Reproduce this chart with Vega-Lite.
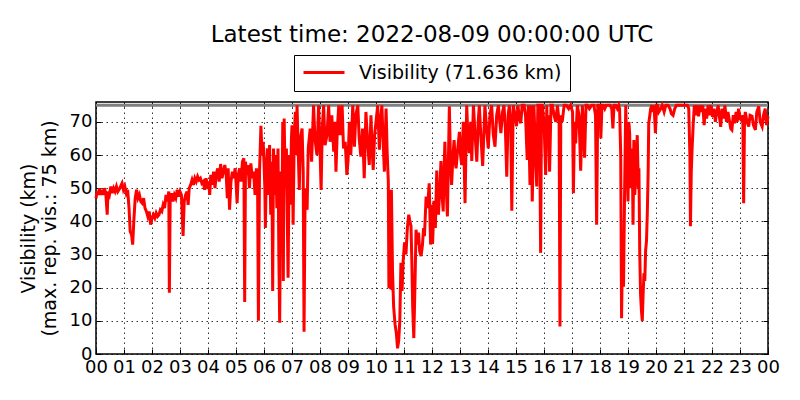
{
  "$schema": "https://vega.github.io/schema/vega-lite/v6.json",
  "width": 672,
  "height": 252,
  "autosize": {"type": "none"},
  "padding": {"left": 96, "top": 102, "right": 32, "bottom": 46},
  "background": "white",
  "title": {
    "text": "Latest time: 2022-08-09 00:00:00 UTC",
    "font": "DejaVu Sans",
    "fontSize": 23,
    "fontWeight": "normal",
    "color": "black",
    "anchor": "middle",
    "offset": 8
  },
  "datasets": {
    "vis": [
      {"t": 0.00, "v": 47}, {"t": 0.04, "v": 49}, {"t": 0.08, "v": 48}, {"t": 0.12, "v": 50}, {"t": 0.16, "v": 48},
      {"t": 0.20, "v": 49.5}, {"t": 0.25, "v": 48}, {"t": 0.30, "v": 50}, {"t": 0.35, "v": 48.5}, {"t": 0.40, "v": 42},
      {"t": 0.43, "v": 49}, {"t": 0.48, "v": 48}, {"t": 0.53, "v": 50.5}, {"t": 0.58, "v": 48.5}, {"t": 0.63, "v": 50},
      {"t": 0.68, "v": 49}, {"t": 0.73, "v": 50.5}, {"t": 0.78, "v": 49}, {"t": 0.85, "v": 50}, {"t": 0.93, "v": 51.5},
      {"t": 0.98, "v": 49.5}, {"t": 1.03, "v": 50.5}, {"t": 1.08, "v": 48.5}, {"t": 1.13, "v": 49.5}, {"t": 1.18, "v": 44},
      {"t": 1.22, "v": 37}, {"t": 1.27, "v": 36}, {"t": 1.31, "v": 33}, {"t": 1.35, "v": 40}, {"t": 1.40, "v": 47},
      {"t": 1.45, "v": 49.5}, {"t": 1.50, "v": 47}, {"t": 1.55, "v": 48}, {"t": 1.60, "v": 46}, {"t": 1.65, "v": 45.5},
      {"t": 1.70, "v": 47}, {"t": 1.75, "v": 44}, {"t": 1.80, "v": 43}, {"t": 1.85, "v": 41.5}, {"t": 1.90, "v": 43},
      {"t": 1.95, "v": 39}, {"t": 2.00, "v": 41}, {"t": 2.05, "v": 42}, {"t": 2.10, "v": 41}, {"t": 2.15, "v": 42.5},
      {"t": 2.20, "v": 41.5}, {"t": 2.25, "v": 42}, {"t": 2.30, "v": 43.5}, {"t": 2.35, "v": 43}, {"t": 2.40, "v": 45},
      {"t": 2.45, "v": 44}, {"t": 2.50, "v": 48}, {"t": 2.55, "v": 46}, {"t": 2.60, "v": 49}, {"t": 2.62, "v": 18.5},
      {"t": 2.65, "v": 47}, {"t": 2.70, "v": 48.5}, {"t": 2.75, "v": 46}, {"t": 2.80, "v": 48}, {"t": 2.85, "v": 47},
      {"t": 2.90, "v": 49.5}, {"t": 2.95, "v": 47.5}, {"t": 3.00, "v": 49}, {"t": 3.05, "v": 48}, {"t": 3.11, "v": 35.6},
      {"t": 3.15, "v": 46}, {"t": 3.20, "v": 48}, {"t": 3.25, "v": 49}, {"t": 3.29, "v": 45}, {"t": 3.33, "v": 50},
      {"t": 3.38, "v": 51}, {"t": 3.43, "v": 52.5}, {"t": 3.48, "v": 51}, {"t": 3.53, "v": 53}, {"t": 3.58, "v": 52},
      {"t": 3.63, "v": 53.5}, {"t": 3.68, "v": 52.5}, {"t": 3.73, "v": 53}, {"t": 3.78, "v": 51.5}, {"t": 3.83, "v": 52},
      {"t": 3.88, "v": 49.5}, {"t": 3.93, "v": 53}, {"t": 3.98, "v": 51}, {"t": 4.03, "v": 52}, {"t": 4.06, "v": 48},
      {"t": 4.10, "v": 54}, {"t": 4.15, "v": 51}, {"t": 4.20, "v": 55}, {"t": 4.25, "v": 50}, {"t": 4.30, "v": 54.5},
      {"t": 4.35, "v": 56}, {"t": 4.40, "v": 52}, {"t": 4.45, "v": 57.3}, {"t": 4.50, "v": 53}, {"t": 4.55, "v": 55},
      {"t": 4.60, "v": 57}, {"t": 4.65, "v": 54}, {"t": 4.69, "v": 47}, {"t": 4.72, "v": 56}, {"t": 4.77, "v": 43.5},
      {"t": 4.82, "v": 52}, {"t": 4.87, "v": 55}, {"t": 4.92, "v": 53}, {"t": 4.97, "v": 56}, {"t": 5.00, "v": 52},
      {"t": 5.04, "v": 45.5}, {"t": 5.08, "v": 54}, {"t": 5.13, "v": 56}, {"t": 5.18, "v": 52}, {"t": 5.23, "v": 58},
      {"t": 5.28, "v": 59}, {"t": 5.31, "v": 15.7}, {"t": 5.34, "v": 58}, {"t": 5.38, "v": 54}, {"t": 5.43, "v": 57},
      {"t": 5.48, "v": 50}, {"t": 5.53, "v": 57.5}, {"t": 5.58, "v": 53}, {"t": 5.63, "v": 55}, {"t": 5.68, "v": 48},
      {"t": 5.73, "v": 56}, {"t": 5.77, "v": 53}, {"t": 5.80, "v": 10}, {"t": 5.84, "v": 55}, {"t": 5.89, "v": 68.8},
      {"t": 5.93, "v": 60}, {"t": 5.97, "v": 64}, {"t": 6.00, "v": 58}, {"t": 6.03, "v": 50}, {"t": 6.05, "v": 38},
      {"t": 6.08, "v": 55}, {"t": 6.12, "v": 62}, {"t": 6.16, "v": 48}, {"t": 6.20, "v": 63}, {"t": 6.24, "v": 42},
      {"t": 6.28, "v": 58}, {"t": 6.31, "v": 19}, {"t": 6.34, "v": 62}, {"t": 6.38, "v": 48}, {"t": 6.42, "v": 60},
      {"t": 6.46, "v": 44}, {"t": 6.50, "v": 62}, {"t": 6.53, "v": 30}, {"t": 6.56, "v": 9.4}, {"t": 6.60, "v": 55},
      {"t": 6.64, "v": 40}, {"t": 6.67, "v": 70}, {"t": 6.69, "v": 22}, {"t": 6.72, "v": 71}, {"t": 6.76, "v": 50},
      {"t": 6.80, "v": 62}, {"t": 6.83, "v": 42}, {"t": 6.86, "v": 23}, {"t": 6.90, "v": 60}, {"t": 6.94, "v": 45},
      {"t": 6.98, "v": 65}, {"t": 7.00, "v": 69}, {"t": 7.04, "v": 39}, {"t": 7.08, "v": 66}, {"t": 7.12, "v": 73},
      {"t": 7.15, "v": 60}, {"t": 7.18, "v": 75}, {"t": 7.22, "v": 62}, {"t": 7.26, "v": 49.5}, {"t": 7.30, "v": 65},
      {"t": 7.36, "v": 68}, {"t": 7.40, "v": 55}, {"t": 7.43, "v": 6.7}, {"t": 7.47, "v": 50}, {"t": 7.54, "v": 43.5},
      {"t": 7.58, "v": 62}, {"t": 7.65, "v": 68}, {"t": 7.70, "v": 58}, {"t": 7.77, "v": 75}, {"t": 7.82, "v": 65},
      {"t": 7.89, "v": 60}, {"t": 7.95, "v": 75}, {"t": 8.00, "v": 62}, {"t": 8.04, "v": 49.5}, {"t": 8.08, "v": 68},
      {"t": 8.13, "v": 75}, {"t": 8.18, "v": 63}, {"t": 8.25, "v": 66}, {"t": 8.31, "v": 75}, {"t": 8.36, "v": 64},
      {"t": 8.42, "v": 72}, {"t": 8.49, "v": 61}, {"t": 8.53, "v": 70}, {"t": 8.57, "v": 55}, {"t": 8.62, "v": 68},
      {"t": 8.67, "v": 75}, {"t": 8.72, "v": 66}, {"t": 8.79, "v": 75}, {"t": 8.84, "v": 62}, {"t": 8.90, "v": 64},
      {"t": 8.96, "v": 54}, {"t": 9.00, "v": 58}, {"t": 9.05, "v": 70}, {"t": 9.10, "v": 60}, {"t": 9.17, "v": 75},
      {"t": 9.23, "v": 62.5}, {"t": 9.28, "v": 72}, {"t": 9.35, "v": 75}, {"t": 9.40, "v": 65}, {"t": 9.46, "v": 59.5},
      {"t": 9.52, "v": 68}, {"t": 9.58, "v": 53}, {"t": 9.64, "v": 73}, {"t": 9.70, "v": 64}, {"t": 9.76, "v": 57},
      {"t": 9.82, "v": 72}, {"t": 9.86, "v": 62}, {"t": 9.90, "v": 55.5}, {"t": 9.95, "v": 66}, {"t": 10.00, "v": 70},
      {"t": 10.06, "v": 75}, {"t": 10.12, "v": 61.6}, {"t": 10.16, "v": 70}, {"t": 10.21, "v": 75}, {"t": 10.26, "v": 63},
      {"t": 10.30, "v": 55}, {"t": 10.36, "v": 74}, {"t": 10.40, "v": 60.6}, {"t": 10.44, "v": 52}, {"t": 10.46, "v": 20.3},
      {"t": 10.51, "v": 20}, {"t": 10.55, "v": 49.5}, {"t": 10.59, "v": 25}, {"t": 10.63, "v": 14.3}, {"t": 10.68, "v": 9},
      {"t": 10.73, "v": 6}, {"t": 10.77, "v": 1.7}, {"t": 10.81, "v": 4}, {"t": 10.85, "v": 10}, {"t": 10.89, "v": 27.5},
      {"t": 10.93, "v": 19}, {"t": 10.97, "v": 28}, {"t": 11.02, "v": 33.7}, {"t": 11.07, "v": 30}, {"t": 11.12, "v": 38},
      {"t": 11.17, "v": 42}, {"t": 11.21, "v": 40}, {"t": 11.25, "v": 38.6}, {"t": 11.28, "v": 28}, {"t": 11.31, "v": 14.3},
      {"t": 11.35, "v": 4.8}, {"t": 11.39, "v": 20}, {"t": 11.43, "v": 37.5}, {"t": 11.48, "v": 33}, {"t": 11.52, "v": 36.6},
      {"t": 11.56, "v": 31}, {"t": 11.61, "v": 29.5}, {"t": 11.66, "v": 33}, {"t": 11.70, "v": 38}, {"t": 11.73, "v": 35.5},
      {"t": 11.79, "v": 47.5}, {"t": 11.84, "v": 44}, {"t": 11.90, "v": 51.5}, {"t": 11.95, "v": 33}, {"t": 12.00, "v": 45},
      {"t": 12.02, "v": 33.2}, {"t": 12.05, "v": 40}, {"t": 12.07, "v": 46.2}, {"t": 12.12, "v": 38}, {"t": 12.17, "v": 55.3},
      {"t": 12.20, "v": 45}, {"t": 12.23, "v": 42}, {"t": 12.28, "v": 50}, {"t": 12.32, "v": 58.2}, {"t": 12.36, "v": 48},
      {"t": 12.40, "v": 43}, {"t": 12.43, "v": 55}, {"t": 12.46, "v": 64}, {"t": 12.50, "v": 52}, {"t": 12.55, "v": 41.5},
      {"t": 12.62, "v": 74.7}, {"t": 12.66, "v": 58}, {"t": 12.70, "v": 51}, {"t": 12.75, "v": 60}, {"t": 12.79, "v": 64.5},
      {"t": 12.83, "v": 58}, {"t": 12.86, "v": 56}, {"t": 12.92, "v": 62}, {"t": 12.98, "v": 67}, {"t": 13.02, "v": 60},
      {"t": 13.06, "v": 57}, {"t": 13.12, "v": 70}, {"t": 13.18, "v": 45.5}, {"t": 13.24, "v": 75}, {"t": 13.28, "v": 66},
      {"t": 13.33, "v": 60.6}, {"t": 13.38, "v": 70}, {"t": 13.42, "v": 58.2}, {"t": 13.48, "v": 75}, {"t": 13.54, "v": 66},
      {"t": 13.60, "v": 58}, {"t": 13.65, "v": 70}, {"t": 13.69, "v": 75}, {"t": 13.75, "v": 65}, {"t": 13.81, "v": 56.7},
      {"t": 13.89, "v": 75}, {"t": 13.95, "v": 68}, {"t": 14.01, "v": 62}, {"t": 14.07, "v": 72}, {"t": 14.13, "v": 75},
      {"t": 14.19, "v": 66}, {"t": 14.25, "v": 62.5}, {"t": 14.31, "v": 72}, {"t": 14.37, "v": 75}, {"t": 14.42, "v": 70},
      {"t": 14.46, "v": 66.6}, {"t": 14.52, "v": 73}, {"t": 14.57, "v": 75}, {"t": 14.62, "v": 68}, {"t": 14.67, "v": 53.5},
      {"t": 14.72, "v": 72}, {"t": 14.76, "v": 75}, {"t": 14.81, "v": 70}, {"t": 14.85, "v": 43.2}, {"t": 14.90, "v": 75},
      {"t": 14.97, "v": 72}, {"t": 15.02, "v": 68.7}, {"t": 15.07, "v": 75}, {"t": 15.12, "v": 71}, {"t": 15.17, "v": 69.6},
      {"t": 15.22, "v": 75}, {"t": 15.29, "v": 75}, {"t": 15.34, "v": 72}, {"t": 15.40, "v": 58.5}, {"t": 15.44, "v": 75},
      {"t": 15.50, "v": 51}, {"t": 15.54, "v": 75}, {"t": 15.58, "v": 46}, {"t": 15.62, "v": 62}, {"t": 15.64, "v": 75},
      {"t": 15.70, "v": 60}, {"t": 15.74, "v": 50.5}, {"t": 15.78, "v": 75}, {"t": 15.82, "v": 75}, {"t": 15.85, "v": 62},
      {"t": 15.88, "v": 30.5}, {"t": 15.91, "v": 75}, {"t": 15.94, "v": 75}, {"t": 16.00, "v": 70}, {"t": 16.06, "v": 54},
      {"t": 16.10, "v": 75}, {"t": 16.12, "v": 63.5}, {"t": 16.16, "v": 72}, {"t": 16.20, "v": 55}, {"t": 16.25, "v": 75},
      {"t": 16.30, "v": 75}, {"t": 16.36, "v": 72}, {"t": 16.42, "v": 70}, {"t": 16.48, "v": 75}, {"t": 16.54, "v": 70},
      {"t": 16.57, "v": 8.3}, {"t": 16.60, "v": 72}, {"t": 16.65, "v": 70}, {"t": 16.72, "v": 75}, {"t": 16.80, "v": 75},
      {"t": 16.88, "v": 74}, {"t": 16.95, "v": 75}, {"t": 17.02, "v": 73}, {"t": 17.05, "v": 48.5}, {"t": 17.09, "v": 70},
      {"t": 17.13, "v": 63.5}, {"t": 17.19, "v": 75}, {"t": 17.25, "v": 72}, {"t": 17.31, "v": 55.3}, {"t": 17.37, "v": 75},
      {"t": 17.45, "v": 59.2}, {"t": 17.50, "v": 75}, {"t": 17.55, "v": 75}, {"t": 17.62, "v": 74}, {"t": 17.70, "v": 75},
      {"t": 17.78, "v": 75}, {"t": 17.84, "v": 72}, {"t": 17.88, "v": 39}, {"t": 17.92, "v": 75}, {"t": 17.96, "v": 75},
      {"t": 18.00, "v": 75}, {"t": 18.03, "v": 65}, {"t": 18.07, "v": 75}, {"t": 18.12, "v": 75}, {"t": 18.17, "v": 74},
      {"t": 18.22, "v": 75}, {"t": 18.29, "v": 75}, {"t": 18.36, "v": 75}, {"t": 18.42, "v": 74}, {"t": 18.46, "v": 68},
      {"t": 18.50, "v": 75}, {"t": 18.56, "v": 75}, {"t": 18.62, "v": 74}, {"t": 18.67, "v": 75}, {"t": 18.70, "v": 74},
      {"t": 18.74, "v": 60}, {"t": 18.77, "v": 10.8}, {"t": 18.80, "v": 30}, {"t": 18.84, "v": 20.3}, {"t": 18.88, "v": 50},
      {"t": 18.92, "v": 75}, {"t": 18.96, "v": 60}, {"t": 19.00, "v": 46}, {"t": 19.03, "v": 70}, {"t": 19.06, "v": 66.5},
      {"t": 19.09, "v": 50}, {"t": 19.12, "v": 53.5}, {"t": 19.15, "v": 62}, {"t": 19.18, "v": 39}, {"t": 19.21, "v": 64.5},
      {"t": 19.24, "v": 48}, {"t": 19.26, "v": 51}, {"t": 19.30, "v": 58}, {"t": 19.33, "v": 66}, {"t": 19.37, "v": 50},
      {"t": 19.39, "v": 56}, {"t": 19.42, "v": 30}, {"t": 19.45, "v": 17.7}, {"t": 19.48, "v": 13}, {"t": 19.51, "v": 10},
      {"t": 19.54, "v": 18}, {"t": 19.57, "v": 24.3}, {"t": 19.60, "v": 22}, {"t": 19.63, "v": 31.3}, {"t": 19.66, "v": 34},
      {"t": 19.69, "v": 42.5}, {"t": 19.72, "v": 55}, {"t": 19.74, "v": 69.5}, {"t": 19.78, "v": 72}, {"t": 19.81, "v": 74},
      {"t": 19.85, "v": 75}, {"t": 19.89, "v": 73}, {"t": 19.93, "v": 75}, {"t": 19.98, "v": 66.6}, {"t": 20.02, "v": 75},
      {"t": 20.05, "v": 75}, {"t": 20.10, "v": 73}, {"t": 20.17, "v": 74}, {"t": 20.22, "v": 75}, {"t": 20.29, "v": 73},
      {"t": 20.35, "v": 75}, {"t": 20.43, "v": 75}, {"t": 20.50, "v": 74}, {"t": 20.55, "v": 72.5}, {"t": 20.61, "v": 72},
      {"t": 20.67, "v": 74}, {"t": 20.73, "v": 75}, {"t": 20.80, "v": 75}, {"t": 20.90, "v": 75}, {"t": 20.96, "v": 75},
      {"t": 21.05, "v": 75}, {"t": 21.12, "v": 75}, {"t": 21.17, "v": 74}, {"t": 21.21, "v": 60}, {"t": 21.23, "v": 38.5},
      {"t": 21.26, "v": 55}, {"t": 21.29, "v": 62}, {"t": 21.33, "v": 69.5}, {"t": 21.37, "v": 75}, {"t": 21.42, "v": 72},
      {"t": 21.47, "v": 75}, {"t": 21.52, "v": 71.7}, {"t": 21.57, "v": 75}, {"t": 21.62, "v": 73}, {"t": 21.67, "v": 75},
      {"t": 21.72, "v": 69}, {"t": 21.76, "v": 74}, {"t": 21.81, "v": 71}, {"t": 21.86, "v": 75}, {"t": 21.92, "v": 72},
      {"t": 21.97, "v": 75}, {"t": 22.02, "v": 71.5}, {"t": 22.07, "v": 74}, {"t": 22.12, "v": 70}, {"t": 22.17, "v": 73},
      {"t": 22.22, "v": 75}, {"t": 22.26, "v": 72}, {"t": 22.31, "v": 68.5}, {"t": 22.36, "v": 74}, {"t": 22.41, "v": 71},
      {"t": 22.46, "v": 75}, {"t": 22.52, "v": 70}, {"t": 22.57, "v": 73}, {"t": 22.62, "v": 70.5}, {"t": 22.67, "v": 68},
      {"t": 22.71, "v": 67.6}, {"t": 22.76, "v": 72}, {"t": 22.81, "v": 69.6}, {"t": 22.86, "v": 73}, {"t": 22.90, "v": 70},
      {"t": 22.95, "v": 74}, {"t": 23.00, "v": 71}, {"t": 23.05, "v": 70.5}, {"t": 23.10, "v": 72}, {"t": 23.13, "v": 45.5},
      {"t": 23.16, "v": 70}, {"t": 23.19, "v": 73}, {"t": 23.25, "v": 70}, {"t": 23.31, "v": 68.6}, {"t": 23.36, "v": 72},
      {"t": 23.43, "v": 71.7}, {"t": 23.48, "v": 69}, {"t": 23.55, "v": 67.6}, {"t": 23.60, "v": 73}, {"t": 23.67, "v": 74.7},
      {"t": 23.72, "v": 70}, {"t": 23.79, "v": 68.6}, {"t": 23.84, "v": 72}, {"t": 23.90, "v": 74}, {"t": 23.95, "v": 69},
      {"t": 24.00, "v": 71.6}
    ]
  },
  "layer": [
    {
      "data": {"values": [{"t0": 0, "t1": 24, "max": 75}]},
      "mark": {"type": "rule", "color": "#808080", "strokeWidth": 3},
      "encoding": {
        "x": {
          "field": "t0",
          "type": "quantitative",
          "scale": {"domain": [0, 24], "nice": false, "zero": false},
          "axis": {
            "orient": "top",
            "values": [0, 1, 2, 3, 4, 5, 6, 7, 8, 9, 10, 11, 12, 13, 14, 15, 16, 17, 18, 19, 20, 21, 22, 23, 24],
            "labels": false,
            "grid": false,
            "domain": false,
            "title": null,
            "tickSize": -5,
            "tickColor": "black"
          }
        },
        "x2": {"field": "t1"},
        "y": {
          "field": "max",
          "type": "quantitative",
          "scale": {"domain": [0, 76], "nice": false},
          "axis": {
            "orient": "right",
            "values": [0, 10, 20, 30, 40, 50, 60, 70],
            "labels": false,
            "grid": false,
            "domain": false,
            "title": null,
            "tickSize": -5,
            "tickColor": "black"
          }
        }
      }
    },
    {
      "data": {"name": "vis"},
      "mark": {"type": "line", "strokeWidth": 3, "interpolate": "linear"},
      "encoding": {
        "x": {
          "field": "t",
          "type": "quantitative",
          "scale": {"domain": [0, 24], "nice": false, "zero": false},
          "axis": {
            "orient": "bottom",
            "values": [0, 1, 2, 3, 4, 5, 6, 7, 8, 9, 10, 11, 12, 13, 14, 15, 16, 17, 18, 19, 20, 21, 22, 23, 24],
            "labelExpr": "(datum.value % 24 < 10 ? '0' : '') + (datum.value % 24)",
            "labelOverlap": false,
            "labelFlush": false,
            "labelPadding": 9,
            "title": null,
            "domain": false,
            "tickSize": -5,
            "tickColor": "black",
            "grid": true
          }
        },
        "y": {
          "field": "v",
          "type": "quantitative",
          "scale": {"domain": [0, 76], "nice": false},
          "axis": {
            "orient": "left",
            "values": [0, 10, 20, 30, 40, 50, 60, 70],
            "labelPadding": 9,
            "title": ["Visibility (km)", "(max. rep. vis.: 75 km)"],
            "titlePadding": 10,
            "domain": false,
            "tickSize": -5,
            "tickColor": "black",
            "grid": true
          }
        },
        "color": {
          "datum": "Visibility (71.636 km)",
          "type": "nominal",
          "scale": {"range": ["#ff0000"]},
          "legend": {
            "orient": "none",
            "legendX": 198,
            "legendY": -47,
            "title": null,
            "symbolType": "stroke",
            "symbolSize": 1681,
            "symbolStrokeWidth": 3,
            "clipHeight": 19,
            "labelOffset": 13,
            "padding": 8,
            "strokeColor": "black",
            "fillColor": "white"
          }
        }
      }
    }
  ],
  "resolve": {"axis": {"x": "independent", "y": "independent"}},
  "config": {
    "font": "DejaVu Sans",
    "view": {"stroke": "black", "strokeWidth": 1.5},
    "axis": {
      "labelFont": "DejaVu Sans",
      "labelFontSize": 18,
      "labelColor": "black",
      "titleFont": "DejaVu Sans",
      "titleFontSize": 19,
      "titleFontWeight": "normal",
      "titleColor": "black",
      "titleLineHeight": 21,
      "gridColor": "black",
      "gridOpacity": 1,
      "gridWidth": 0.8,
      "gridDash": [1.5, 3.5]
    },
    "legend": {
      "labelFont": "DejaVu Sans",
      "labelFontSize": 19,
      "labelColor": "black",
      "labelLimit": 400
    }
  }
}
